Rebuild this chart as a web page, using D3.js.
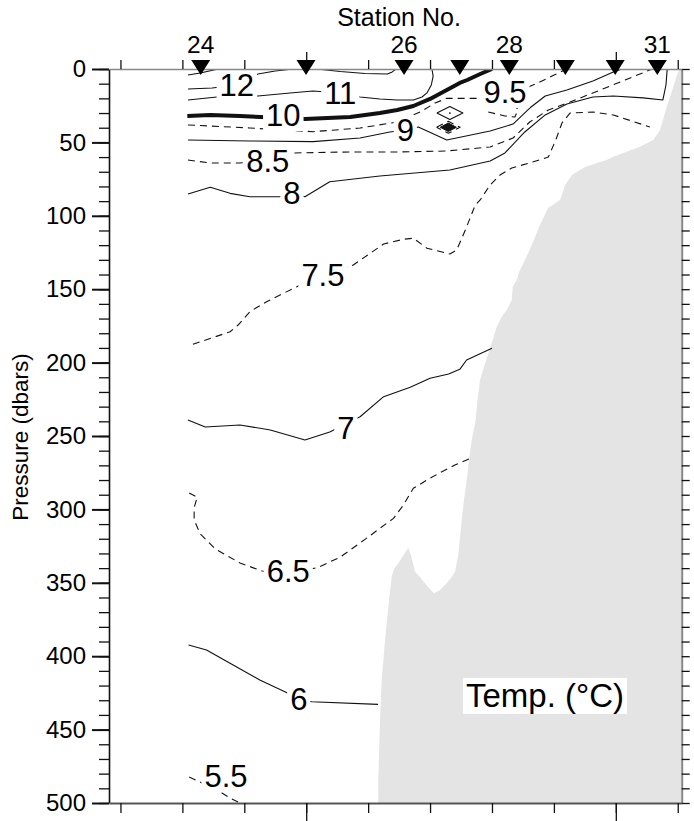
<!DOCTYPE html>
<html><head><meta charset="utf-8">
<script src="https://cdn.jsdelivr.net/npm/d3@7"></script>
<style>body{margin:0;background:#fff}</style>
</head><body>
<svg id="chart" width="694" height="821"></svg>
<script>
// ---------- DATA ----------
// stations (distance along section, km) — triangles on top
const stationNumbers = [24, 25, 26, 27, 28, 29, 30, 31];
const stationDist    = [32.96, 49.97, 65.8, 74.8, 82.8, 91.85, 99.9, 106.7];
const stationLabelled = [24, 26, 28, 31];

// axis ticks
const pressureMajorTicks = [0, 50, 100, 150, 200, 250, 300, 350, 400, 450, 500];
const distMinorTicks = [20, 30, 40, 50, 60, 70, 80, 90, 100, 110];
const distMajorTicks = [50, 100];

// bathymetry (seafloor pressure vs distance)
const bathyDist  = [61.63,61.64,61.92,62.19,62.73,63.05,63.37,63.81,64.23,64.87,65.63,66.49,66.93,67.57,68.38,69.19,69.99,70.64,71.61,72.69,73.38,74.03,74.56,74.84,75.11,75.48,75.92,76.29,76.73,77.37,77.54,78.07,78.88,79.96,80.77,81.57,82.38,83.19,83.35,84.0,84.37,85.5,86.63,87.75,89.05,91.0,91.8,92.93,95.03,97.45,98.53,99.6,101.76,103.9,106.06,107.14,108.22,109.29,109.88,110.37,110.64];
const bathyDepth = [500,484.3,443.5,416.2,389.0,375.3,361.7,345.8,340.1,336.7,331.7,326.1,331.1,342.4,346.0,350.3,354.2,357.2,354.9,350.3,346.7,342.4,331.1,318.8,307.2,293.6,280.0,266.3,252.7,239.1,230.0,211.9,200.5,186.9,175.5,168.7,164.2,157.4,148.3,143.7,138.3,128.7,117.8,106.3,94.7,89.2,79.0,72.2,66.8,63.4,62.0,59.7,56.3,52.9,48.4,41.6,25.7,12.1,4.1,0,0];

// isotherms: [distance km, pressure dbar]
const iso13   = [[30.9,4.1],[32.9,2.7],[35.8,0]];
const iso12a  = [[30.9,13.6],[34.8,12.9],[38.8,10.9],[42.2,3.4],[45.0,1.4],[47.9,0]];
const iso12b  = [[51.7,0],[55.5,1.7],[59.5,3.1],[63.1,3.4],[63.9,2.0],[64.5,0]];
const iso11   = [[30.9,21.1],[35.6,19.1],[42.2,18.4],[47.4,16.3],[51.1,15.0],[55.5,16.3],[58.7,19.1],[61.9,20.4],[64.7,21.1],[67.3,21.1],[68.7,19.1],[69.5,16.3],[70.2,10.9],[70.5,4.8],[70.3,0]];
const iso10   = [[30.8,32.0],[34.5,31.3],[39.3,32.0],[42.7,32.7],[46.3,33.4],[49.8,34.1],[57.1,32.7],[61.9,30.0],[64.7,27.9],[67.3,25.2],[70.0,20.4],[72.7,14.3],[74.8,9.5],[76.0,7.5],[78.1,3.4],[80.0,0]];
const iso95a  = [[30.9,38.1],[40.9,40.2],[51.1,42.7],[58.7,40.2],[64.7,36.1],[68.4,29.3],[70.8,23.2],[72.7,20.0],[78.1,20.0],[82.1,16.5],[85.5,12.9],[87.3,9.7],[89.7,4.8],[92.1,0]];
const iso95b  = [[79.4,29.3],[82.1,32.0],[83.7,32.7],[84.2,27.9],[83.6,23.8]];
const iso95c  = [[71.1,30.0],[73.2,25.6],[75.3,30.0],[73.2,34.4],[71.1,30.0]];
const iso9    = [[30.9,48.4],[40.9,49.0],[51.1,49.5],[58.7,47.0],[63.5,42.9],[66.0,41.5],[68.1,39.5],[72.7,48.4],[79.7,42.2],[83.4,37.5],[86.1,26.6],[88.6,18.4],[92.1,14.3],[96.3,8.2],[99.6,2.0],[101.0,0]];
const iso9b   = [[71.05,39.7],[72.95,35.6],[74.85,39.7],[72.95,43.8],[71.05,39.7]];
const iso9core= [[71.65,39.7],[72.95,36.8],[74.25,39.7],[72.95,42.6],[71.65,39.7]];
const iso85   = [[30.9,62.0],[34.5,64.0],[39.3,64.0],[43.8,62.7],[47.9,57.2],[57.1,56.5],[64.7,56.5],[72.6,55.9],[79.7,53.1],[83.4,47.0],[86.1,36.1],[89.1,27.9],[92.6,22.5],[97.5,14.3],[101.5,7.5],[104.7,2.0],[105.9,0]];
const iso8    = [[30.9,85.1],[34.5,80.6],[37.7,84.7],[40.9,87.0],[45.8,87.0],[47.7,84.7],[49.8,87.0],[53.8,76.8],[61.9,72.9],[73.2,68.8],[79.7,62.7],[82.1,57.2],[85.3,42.9],[88.6,31.3],[92.1,23.8],[96.3,19.1],[99.6,18.4],[104.4,19.7],[107.6,21.1],[108.1,10.9],[108.3,0]];
const iso75   = [[31.7,187.5],[37.7,179.0],[39.0,174.4],[40.9,165.3],[43.6,158.5],[48.5,148.3],[52.7,139.9],[57.6,133.5],[62.5,119.2],[65.7,116.0],[67.3,115.3],[69.5,122.1],[73.2,126.0],[74.3,123.3],[75.7,109.7],[77.3,92.6],[78.1,89.2],[79.7,79.0],[81.3,72.2],[83.2,67.4],[86.1,64.0],[89.1,60.0],[90.3,48.4],[91.3,36.8],[92.6,30.0],[96.3,29.3],[99.6,31.3],[105.5,39.5]];
const iso7    = [[30.9,239.1],[33.7,243.9],[39.3,242.5],[44.2,245.9],[49.8,252.7],[53.8,247.3],[58.7,236.9],[62.5,223.2],[66.8,216.8],[70.0,210.7],[73.0,207.8],[74.8,204.6],[75.9,198.2],[80.0,190.3]];
const iso65   = [[31.1,288.8],[32.4,291.6],[31.9,298.9],[31.9,307.2],[32.9,316.8],[35.3,326.9],[39.3,336.5],[42.9,342.0],[47.1,344.0],[51.9,339.5],[55.5,332.5],[59.5,320.4],[61.9,312.9],[64.1,306.1],[65.7,297.0],[67.3,285.6],[69.5,280.0],[71.6,275.0],[74.0,269.8],[76.5,265.2]];
const iso6    = [[31.0,392.4],[33.9,395.8],[38.2,406.0],[42.5,416.2],[46.9,424.9],[48.8,429.2],[50.9,431.0],[61.6,432.8]];
const iso55   = [[31.1,482.3],[32.5,485.0],[36.4,493.2],[37.7,496.6],[39.3,500]];

const isoLevels = [13, 12, 12, 11, 10, 9.5, 9.5, 9.5, 9, 9, 8.5, 8, 7.5, 7, 6.5, 6, 5.5];
const isoLines  = [iso13, iso12a, iso12b, iso11, iso10, iso95a, iso95b, iso95c, iso9, iso9b, iso85, iso8, iso75, iso7, iso65, iso6, iso55];
const isoDashed = [false,false,false,false,false,true,true,false,false,true,true,false,true,false,true,false,true];

// contour labels
const labelText = ["12", "11", "10", "9.5", "9", "8.5", "8", "7.5", "7", "6.5", "6", "5.5"];
const labelDist = [38.8, 55.5, 46.3, 82.1, 66.0, 43.8, 47.7, 52.7, 56.4, 47.1, 48.8, 37.05];
const labelPres = [10.9, 16.3, 31.3, 15.5, 41.5, 62.7, 84.7, 139.9, 244.5, 342.0, 429.2, 481.6];

// ---------- DRAW ----------
const FONT = "'Liberation Sans', Arial, Helvetica, sans-serif";
const svg = d3.select("#chart").style("font-family", FONT);
const x = d3.scaleLinear().domain([18.15, 110.64]).range([109, 681.7]);
const y = d3.scaleLinear().domain([0, 500]).range([69, 803]);
const [x0, x1] = x.range(), [y0, y1] = y.range();

const defs = svg.append("defs");
defs.append("clipPath").attr("id", "plot").append("rect")
  .attr("x", x0).attr("y", y0).attr("width", x1 - x0).attr("height", y1 - y0);
const mask = defs.append("mask").attr("id", "lblmask").attr("maskUnits", "userSpaceOnUse")
  .attr("x", 0).attr("y", 0).attr("width", 694).attr("height", 821);
mask.append("rect").attr("width", 694).attr("height", 821).attr("fill", "#fff");

// seafloor
const bathy = bathyDist.map((d, i) => [d, bathyDepth[i]]);
svg.append("path").datum(bathy)
  .attr("clip-path", "url(#plot)")
  .attr("fill", "#e4e4e4")
  .attr("d", d3.area().x(d => x(d[0])).y0(y(500)).y1(d => y(d[1])));

// isotherms
const line = d3.line().x(d => x(d[0])).y(d => y(d[1]));
const gLines = svg.append("g").attr("clip-path", "url(#plot)").append("g").attr("mask", "url(#lblmask)");
isoLines.forEach((pts, i) => {
  const lev = isoLevels[i];
  gLines.append("path").datum(pts)
    .attr("fill", "none")
    .attr("stroke", "#111")
    .attr("stroke-width", lev === 10 ? 4 : 1.1)
    .attr("stroke-dasharray", isoDashed[i] ? "7,5" : null)
    .attr("stroke-linejoin", "round")
    .attr("d", line);
});
// dark core of the small 9 cell
svg.append("path").datum(iso9core)
  .attr("fill", "#111").attr("stroke", "#111").attr("stroke-width", 1)
  .attr("d", line);
// dot inside the small 9.5 cell
svg.append("circle").attr("cx", x(73.2)).attr("cy", y(30.0)).attr("r", 0.9).attr("fill", "#111");

// contour labels
const gLab = svg.append("g");
labelText.forEach((t, i) => {
  const txt = gLab.append("text")
    .attr("x", x(labelDist[i])).attr("y", y(labelPres[i]))
    .attr("dy", "0.36em")
    .attr("text-anchor", "middle")
    .attr("font-size", 31)
    .attr("fill", "#000")
    .text(t);
  const b = txt.node().getBBox();
  mask.append("rect").attr("x", b.x - 3).attr("y", b.y + 2).attr("width", b.width + 6).attr("height", b.height - 4).attr("fill", "#000");
});

// axes
function styleAxis(g, domainColor, domainWidth) {
  g.selectAll(".domain").attr("stroke", domainColor).attr("stroke-width", domainWidth);
  g.selectAll(".tick line").attr("stroke", "#111").attr("stroke-width", 1.3);
  g.selectAll("text").attr("font-family", FONT).attr("font-size", 24).attr("fill", "#000");
}
// left
svg.append("g").attr("transform", `translate(${x0},0)`)
  .call(d3.axisLeft(y).tickValues(d3.range(0, 501, 10)).tickSize(10).tickSizeOuter(0).tickFormat(""))
  .call(g => styleAxis(g, "#111", 1.6));
svg.append("g").attr("transform", `translate(${x0},0)`)
  .call(d3.axisLeft(y).tickValues(pressureMajorTicks).tickSize(17).tickSizeOuter(0).tickPadding(6))
  .call(g => { styleAxis(g, "#111", 1.6); g.select(".domain").remove(); g.selectAll(".tick line").attr("stroke-width", 2); });
// right
svg.append("g").attr("transform", `translate(${x1},0)`)
  .call(d3.axisRight(y).tickValues(d3.range(0, 501, 10)).tickSize(8).tickSizeOuter(0).tickFormat(""))
  .call(g => styleAxis(g, "#888", 2));
// bottom
svg.append("g").attr("transform", `translate(0,${y1})`)
  .call(d3.axisBottom(x).tickValues(distMinorTicks).tickSize(10).tickSizeOuter(0).tickFormat(""))
  .call(g => styleAxis(g, "#555", 2));
svg.append("g").attr("transform", `translate(0,${y1})`)
  .call(d3.axisBottom(x).tickValues(distMajorTicks).tickSize(18).tickSizeOuter(0).tickFormat(""))
  .call(g => { styleAxis(g, "#555", 2); g.select(".domain").remove(); });
// top
svg.append("g").attr("transform", `translate(0,${y0})`)
  .call(d3.axisTop(x).tickValues(distMinorTicks).tickSize(9).tickSizeOuter(0).tickFormat(""))
  .call(g => styleAxis(g, "#888", 1.6));
svg.append("g").attr("transform", `translate(0,${y0})`)
  .call(d3.axisTop(x).tickValues(distMajorTicks).tickSize(17).tickSizeOuter(0).tickFormat(""))
  .call(g => { styleAxis(g, "#888", 1.6); g.select(".domain").remove(); });

// station triangles
svg.append("g").selectAll("path").data(stationDist).join("path")
  .attr("d", d => `M${x(d) - 9.5},${y0 - 9}L${x(d) + 9.5},${y0 - 9}L${x(d)},${y0 + 6}Z`)
  .attr("fill", "#000");
svg.append("g").selectAll("text").data(stationNumbers.filter(n => stationLabelled.includes(n))).join("text")
  .attr("x", n => x(stationDist[stationNumbers.indexOf(n)]))
  .attr("y", 53)
  .attr("text-anchor", "middle")
  .attr("font-size", 24.5)
  .text(n => n);

// titles
svg.append("text").attr("x", 399).attr("y", 26).attr("text-anchor", "middle")
  .attr("font-size", 25).text("Station No.");
svg.append("text").attr("transform", "translate(28,437) rotate(-90)")
  .attr("text-anchor", "middle").attr("font-size", 22.5).text("Pressure (dbars)");

// Temp. box
const tt = svg.append("text").attr("x", 545).attr("y", 695).attr("dy", "0.36em")
  .attr("text-anchor", "middle").attr("font-size", 33).text("Temp. (\u00B0C)");
const tb = tt.node().getBBox();
svg.insert("rect", () => tt.node())
  .attr("x", tb.x - 3).attr("y", tb.y + 1).attr("width", tb.width + 6).attr("height", tb.height - 1)
  .attr("fill", "#fff");
</script>
</body></html>
